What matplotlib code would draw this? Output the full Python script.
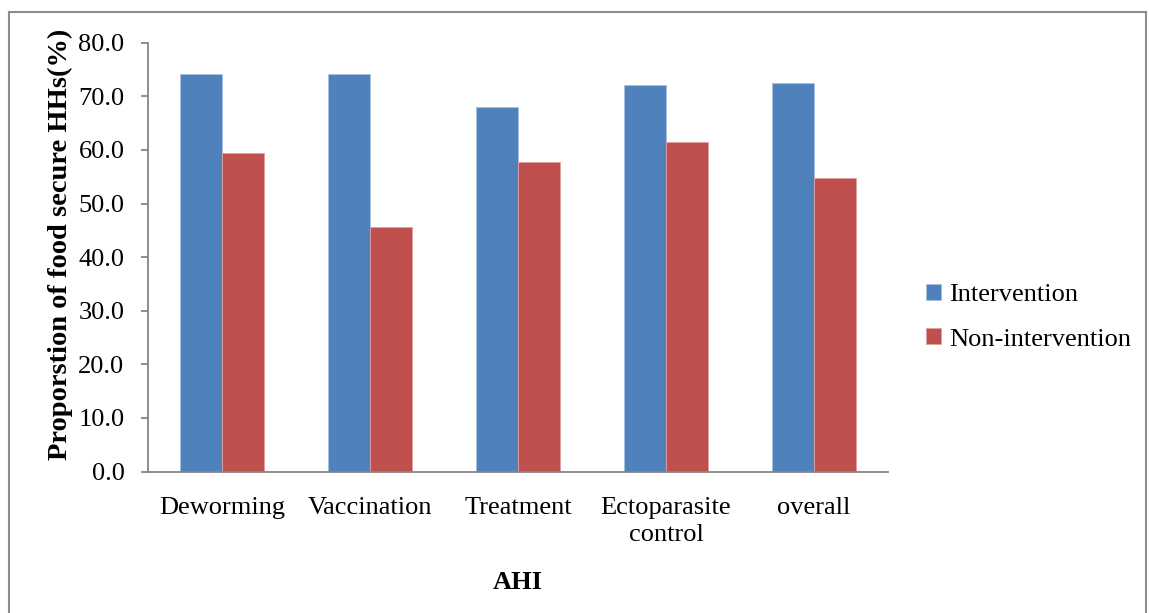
import matplotlib
matplotlib.use("Agg")
import matplotlib.pyplot as plt
import numpy as np
from matplotlib.lines import Line2D

categories = ["Deworming", "Vaccination", "Treatment", "Ectoparasite\ncontrol", "overall"]
intervention = [74.1, 74.1, 68.1, 72.2, 72.5]
non_intervention = [59.4, 45.7, 57.7, 61.5, 54.7]
series_names = ["Intervention", "Non-intervention"]
yticks = [0, 10, 20, 30, 40, 50, 60, 70, 80]

plt.rcParams["font.family"] = ["Liberation Serif", "DejaVu Serif"]
plt.rcParams["font.size"] = 19

blue = "#4f81bd"
red = "#c0504d"
grey = "#868686"

fig = plt.figure(figsize=(11.49, 6.13), dpi=100)
ax = fig.add_axes([0.1288, 0.2308, 0.644, 0.6995])

x = np.arange(len(categories))
w = 0.285
ax.bar(x - w/2, intervention, w, color=blue, edgecolor="#a7c0de", linewidth=0.6, label=series_names[0])
ax.bar(x + w/2, non_intervention, w, color=red, edgecolor="#e0a0a0", linewidth=0.6, label=series_names[1])

ax.set_xlim(-0.5, len(categories) - 0.5)
ax.set_ylim(0, 80)
ax.set_yticks(yticks)
ax.set_yticklabels(["%.1f" % v for v in yticks])
ax.set_xticks(x)
ax.set_xticklabels(categories, linespacing=1.3)

for s in ["top", "right"]:
    ax.spines[s].set_visible(False)
for s in ["left", "bottom"]:
    ax.spines[s].set_color(grey)
    ax.spines[s].set_linewidth(1.3)
ax.tick_params(axis="y", direction="out", length=5, width=1.3, color=grey, pad=12)
ax.tick_params(axis="x", length=0, pad=18)

ax.set_ylabel("Proporstion of food secure HHs(%)", fontweight="bold", fontsize=20.5)
ax.yaxis.set_label_coords(-0.101, 0.53)
ax.set_xlabel("AHI", fontweight="bold", labelpad=18)

ax.legend(loc="center left", bbox_to_anchor=(1.02, 0.36), frameon=False,
          handlelength=0.55, handleheight=0.55, handletextpad=0.3, labelspacing=0.85)

# outer frame around the chart area
fig.add_artist(Line2D([0.0074, 0.0074], [0.0, 0.980], color="#8c8c8c", lw=1.5))
fig.add_artist(Line2D([0.0074, 0.9974], [0.980, 0.980], color="#8c8c8c", lw=1.5))
fig.add_artist(Line2D([0.9974, 0.9974], [0.0, 0.980], color="#8c8c8c", lw=1.5))

fig.savefig("out.png", dpi=100)
